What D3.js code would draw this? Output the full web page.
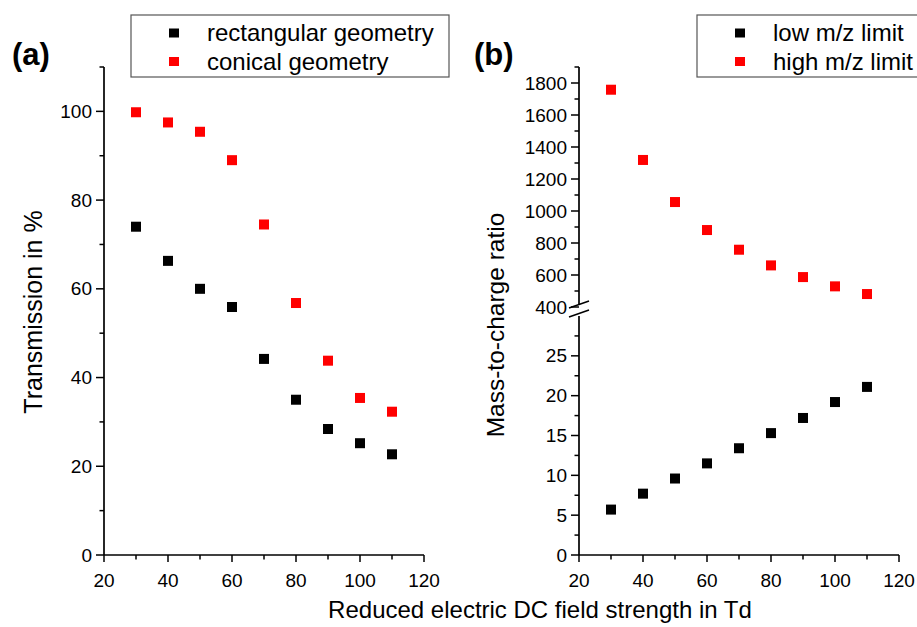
<!DOCTYPE html>
<html>
<head>
<meta charset="utf-8">
<script src="https://cdn.jsdelivr.net/npm/d3@7/dist/d3.min.js"></script>
<style>
  html, body { margin: 0; padding: 0; background: #fff; }
  svg { display: block; font-family: "Liberation Sans", Arial, sans-serif; }
</style>
</head>
<body>
<svg id="chart" width="917" height="627"></svg>
<script>
// Reduced field strength (Td)
const fieldStrength = [30, 40, 50, 60, 70, 80, 90, 100, 110];

// Panel (a): transmission in %
const rectangularTransmission = [74.0, 66.3, 60.0, 55.9, 44.2, 35.0, 28.4, 25.2, 22.7];
const conicalTransmission     = [99.8, 97.5, 95.4, 89.0, 74.5, 56.8, 43.8, 35.4, 32.3];

// Panel (b): m/z limits
const lowMzLimit  = [5.7, 7.7, 9.6, 11.5, 13.4, 15.3, 17.2, 19.2, 21.1];
const highMzLimit = [1758, 1319, 1056, 881, 758, 660, 587, 529, 481];

// Tick values
const xTicksMajor = [20, 40, 60, 80, 100, 120];
const xTicksMinor = [30, 50, 70, 90, 110];
const aTicksMajor = [0, 20, 40, 60, 80, 100];
const aTicksMinor = [10, 30, 50, 70, 90, 110];
const bLowMajor = [0, 5, 10, 15, 20, 25];
const bLowMinor = [2.5, 7.5, 12.5, 17.5, 22.5, 27.5];
const bHighMajor = [400, 600, 800, 1000, 1200, 1400, 1600, 1800];
const bHighMinor = [500, 700, 900, 1100, 1300, 1500, 1700, 1900];

const svg = d3.select("#chart");
const RED = "#ff0000", BLACK = "#000000";
const tickFont = 19, titleFont = 24, legendFont = 24;

function xAxis(g, x, y0) {
  g.append("line").attr("x1", x(20)).attr("x2", x(120)).attr("y1", y0).attr("y2", y0)
    .attr("stroke", "#000").attr("stroke-width", 1.7);
  g.selectAll(".xmaj").data(xTicksMajor).join("line").attr("class", "xmaj")
    .attr("x1", d => x(d)).attr("x2", d => x(d)).attr("y1", y0).attr("y2", y0 + 7)
    .attr("stroke", "#000").attr("stroke-width", 1.5);
  g.selectAll(".xmin").data(xTicksMinor).join("line").attr("class", "xmin")
    .attr("x1", d => x(d)).attr("x2", d => x(d)).attr("y1", y0).attr("y2", y0 + 4.5)
    .attr("stroke", "#000").attr("stroke-width", 1.5);
  g.selectAll(".xlab").data(xTicksMajor).join("text").attr("class", "xlab")
    .attr("x", d => x(d)).attr("y", y0 + 32).attr("text-anchor", "middle")
    .attr("font-size", tickFont).text(d => d);
}

function yTicks(g, y, x0, major, minor, cls) {
  g.selectAll("." + cls + "maj").data(major).join("line").attr("class", cls + "maj")
    .attr("x1", x0 - 8).attr("x2", x0).attr("y1", d => y(d)).attr("y2", d => y(d))
    .attr("stroke", "#000").attr("stroke-width", 1.5);
  g.selectAll("." + cls + "min").data(minor).join("line").attr("class", cls + "min")
    .attr("x1", x0 - 4.5).attr("x2", x0).attr("y1", d => y(d)).attr("y2", d => y(d))
    .attr("stroke", "#000").attr("stroke-width", 1.5);
  g.selectAll("." + cls + "lab").data(major).join("text").attr("class", cls + "lab")
    .attr("x", x0 - 12).attr("y", d => y(d)).attr("dy", "0.35em").attr("text-anchor", "end")
    .attr("font-size", tickFont).text(d => d);
}

function squares(g, x, y, xs, ys, color) {
  g.selectAll(null).data(xs.map((d, i) => [d, ys[i]])).join("rect")
    .attr("x", d => x(d[0]) - 5).attr("y", d => y(d[1]) - 5)
    .attr("width", 10).attr("height", 10).attr("fill", color);
}

function legend(g, x, y, w, h, items) {
  g.append("rect").attr("x", x).attr("y", y).attr("width", w).attr("height", h)
    .attr("fill", "#fff").attr("stroke", "#555").attr("stroke-width", 1.2);
  items.forEach((it, i) => {
    const cy = y + 18 + i * 28.5;
    g.append("rect").attr("x", x + 38).attr("y", cy - 4.5).attr("width", 10).attr("height", 9)
      .attr("fill", it.color);
    g.append("text").attr("x", x + 76).attr("y", cy).attr("dy", "0.35em")
      .attr("font-size", legendFont).text(it.label);
  });
}

// ---- Panel (a)
const xa = d3.scaleLinear().domain([20, 120]).range([104, 424]);
const ya = d3.scaleLinear().domain([0, 110]).range([555, 67]);
const ga = svg.append("g");
ga.append("line").attr("x1", 104).attr("x2", 104).attr("y1", ya(110)).attr("y2", ya(0))
  .attr("stroke", "#000").attr("stroke-width", 1.7);
yTicks(ga, ya, 104, aTicksMajor, aTicksMinor, "ya");
xAxis(ga, xa, ya(0));
squares(ga, xa, ya, fieldStrength, conicalTransmission, RED);
squares(ga, xa, ya, fieldStrength, rectangularTransmission, BLACK);
ga.append("text").attr("transform", `translate(42,312) rotate(-90)`).attr("text-anchor", "middle")
  .attr("font-size", 25).text("Transmission in %");
ga.append("text").attr("x", 12).attr("y", 65).attr("font-size", 31).attr("font-weight", "bold").text("(a)");
legend(ga, 131, 15, 318, 62, [
  { color: BLACK, label: "rectangular geometry" },
  { color: RED, label: "conical geometry" }
]);

// ---- Panel (b), broken y axis
const xb = d3.scaleLinear().domain([20, 120]).range([579, 899]);
const ybLow = d3.scaleLinear().domain([0, 30]).range([555, 316]);
const ybHigh = d3.scaleLinear().domain([400, 1900]).range([307, 67]);
const gb = svg.append("g");
gb.append("line").attr("x1", 579).attr("x2", 579).attr("y1", ybHigh(1900)).attr("y2", 305)
  .attr("stroke", "#000").attr("stroke-width", 1.7);
gb.append("line").attr("x1", 579).attr("x2", 579).attr("y1", 316).attr("y2", ybLow(0))
  .attr("stroke", "#000").attr("stroke-width", 1.7);
// axis break marks
[[308, 301], [317, 310]].forEach(([ya1, ya2]) => {
  gb.append("line").attr("x1", 569).attr("y1", ya1).attr("x2", 589).attr("y2", ya2)
    .attr("stroke", "#000").attr("stroke-width", 1.5);
});
yTicks(gb, ybHigh, 579, bHighMajor, bHighMinor, "yh");
yTicks(gb, ybLow, 579, bLowMajor, bLowMinor, "yl");
xAxis(gb, xb, ybLow(0));
squares(gb, xb, ybHigh, fieldStrength, highMzLimit, RED);
squares(gb, xb, ybLow, fieldStrength, lowMzLimit, BLACK);
gb.append("text").attr("transform", `translate(504,325) rotate(-90)`).attr("text-anchor", "middle")
  .attr("font-size", 24.5).text("Mass-to-charge ratio");
gb.append("text").attr("x", 474).attr("y", 65).attr("font-size", 31).attr("font-weight", "bold").text("(b)");
legend(gb, 697, 15, 230, 62, [
  { color: BLACK, label: "low m/z limit" },
  { color: RED, label: "high m/z limit" }
]);

// shared x title
svg.append("text").attr("x", 540).attr("y", 618).attr("text-anchor", "middle")
  .attr("font-size", titleFont).text("Reduced electric DC field strength in Td");
</script>
</body>
</html>
